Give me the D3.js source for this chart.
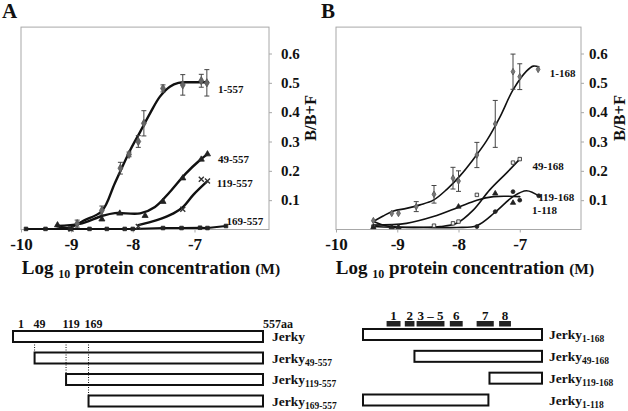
<!DOCTYPE html>
<html><head><meta charset="utf-8">
<script src="https://cdn.jsdelivr.net/npm/d3@7/dist/d3.min.js"></script>
<style>
html,body{margin:0;padding:0;background:#fff;}
svg{display:block;font-family:"Liberation Serif","Times New Roman",serif;font-weight:bold;}
</style></head>
<body><svg id="c" width="628" height="411"></svg>
<script>
// ---------- data ----------
const xTickValues = [-10, -9, -8, -7];
const yTickValues = [0.1, 0.2, 0.3, 0.4, 0.5, 0.6];

// Panel A (Jerky C-terminal fragments)
const a1557_x   = [-8.90, -8.50, -8.20, -8.06, -7.91, -7.82, -7.51, -7.19, -6.89, -6.80];
const a1557_y   = [0.020, 0.065, 0.209, 0.256, 0.300, 0.362, 0.481, 0.493, 0.507, 0.500];
const a1557_err = [0.012, 0.015, 0.020, 0.008, 0.020, 0.043, 0.012, 0.035, 0.022, 0.045];
const a1557_fitX = [-9.29, -9.05, -8.80, -8.50, -8.29, -8.04, -7.88, -7.72, -7.56, -7.40, -7.26, -7.07, -6.78];
const a1557_fitY = [0.012, 0.005, 0.030, 0.063, 0.158, 0.271, 0.333, 0.396, 0.453, 0.487, 0.500, 0.502, 0.502];

const a49557_x = [-9.27, -8.50, -8.21, -7.80, -7.51, -7.19, -6.89, -6.79];
const a49557_y = [0.015, 0.035, 0.055, 0.047, 0.095, 0.175, 0.239, 0.257];
const a49557_fitX = [-9.28, -8.86, -8.50, -8.29, -7.88, -7.64, -7.40, -7.15, -6.91, -6.79];
const a49557_fitY = [0.012, 0.019, 0.046, 0.056, 0.055, 0.077, 0.128, 0.189, 0.237, 0.257];

const a119557_x = [-9.00, -7.91, -7.19, -6.89, -6.79];
const a119557_y = [0.002, 0.010, 0.069, 0.171, 0.165];
const a119557_fitX = [-7.91, -7.61, -7.34, -7.18, -7.02, -6.80];
const a119557_fitY = [0.015, 0.032, 0.055, 0.078, 0.118, 0.163];

const a169557_x = [-9.90, -9.51, -9.02, -8.70, -8.42, -8.13, -8.00, -7.51, -7.21, -6.91, -6.79, -6.49];
const a169557_y = [0.002, 0.002, 0.002, 0.002, 0.002, 0.002, 0.002, 0.005, 0.005, 0.006, 0.005, 0.012];

// Panel B (Jerky N-terminal fragments)
const b1168_x   = [-9.39, -9.09, -8.98, -8.69, -8.40, -8.09, -8.00, -7.70, -7.40, -7.11, -7.00, -6.70];
const b1168_y   = [0.030, 0.055, 0.055, 0.078, 0.120, 0.175, 0.165, 0.254, 0.360, 0.538, 0.521, 0.546];
const b1168_err = [0, 0, 0, 0.017, 0.030, 0.037, 0.035, 0.043, 0.080, 0.060, 0.044, 0];
const b1168_fitX = [-9.39, -9.23, -9.06, -8.85, -8.63, -8.41, -8.19, -7.98, -7.76, -7.54, -7.32, -7.11, -6.89, -6.78, -6.69];
const b1168_fitY = [0.027, 0.046, 0.063, 0.072, 0.084, 0.100, 0.137, 0.182, 0.239, 0.303, 0.385, 0.476, 0.540, 0.557, 0.555];

const b49168_x = [-9.39, -8.40, -8.09, -8.00, -7.70, -7.11, -7.00];
const b49168_y = [0.010, 0.013, 0.021, 0.027, 0.118, 0.228, 0.240];
const b49168_fitX = [-9.39, -8.85, -8.30, -8.03, -7.76, -7.49, -7.21, -7.00];
const b49168_fitY = [0.010, 0.007, 0.010, 0.021, 0.066, 0.135, 0.194, 0.240];

const b119168_x = [-9.39, -9.09, -8.98, -8.00, -7.40, -7.11];
const b119168_y = [0.008, 0.008, 0.008, 0.078, 0.123, 0.091];
const b119168_fitX = [-9.39, -8.85, -8.41, -8.00, -7.70, -7.43, -7.00];
const b119168_fitY = [0.015, 0.021, 0.044, 0.076, 0.100, 0.112, 0.112];

const b1118_x = [-7.70, -7.40, -7.11, -7.00, -6.69];
const b1118_y = [0.010, 0.061, 0.129, 0.100, 0.115];
const b1118_fitX = [-9.39, -9.17, -8.57, -8.03, -7.70, -7.40, -7.11, -6.89, -6.67];
const b1118_fitY = [0.027, 0.012, 0.007, 0.007, 0.013, 0.059, 0.112, 0.132, 0.112];

// series labels (anchor in data units)
const labelsA = ["1-557", "49-557", "119-557", "169-557"];
const labelsA_x = [-6.62, -6.62, -6.64, -6.48];
const labelsA_y = [0.479, 0.240, 0.159, 0.029];
const labelsB = ["1-168", "49-168", "119-168", "1-118"];
const labelsB_x = [-6.51, -6.79, -6.70, -6.80];
const labelsB_y = [0.534, 0.216, 0.109, 0.067];

// Constructs (amino-acid ranges)
const constructsA = ["Jerky", "Jerky49-557", "Jerky119-557", "Jerky169-557"];
const constructsA_sub = ["", "49-557", "119-557", "169-557"];
const constructsA_start = [1, 49, 119, 169];
const constructsA_end = [557, 557, 557, 557];
const positionLabelsA = ["1", "49", "119", "169"];

const constructsB = ["Jerky1-168", "Jerky49-168", "Jerky119-168", "Jerky1-118"];
const constructsB_sub = ["1-168", "49-168", "119-168", "1-118"];
const constructsB_start = [1, 49, 119, 1];
const constructsB_end = [168, 168, 168, 118];
const motifs = ["1", "2", "3 \u2013 5", "6", "7", "8"];
const motifs_start = [23, 40, 51, 82, 107, 128];
const motifs_end = [36, 49, 77, 94, 123, 139];

// ---------- drawing ----------
const svg = d3.select("#c");
const y = d3.scaleLinear().domain([0, 0.6]).range([229.5, 53.5]);
const yTop = 0.69;

const xA = d3.scaleLinear().domain([-10, -9, -8, -7, -6]).range([21, 71, 132.75, 194.5, 256.25]);
const xB = d3.scaleLinear().domain([-10, -6]).range([336, 581]);

function zip(xs, ys) { return xs.map((v, i) => [v, ys[i]]); }

function frame(x, left, right, labPad) {
  const g = svg.append("g");
  g.append("rect").attr("x", left).attr("y", y(yTop)).attr("width", right - left)
    .attr("height", y(0) - y(yTop)).attr("fill", "none").attr("stroke", "#a8a8a8").attr("stroke-width", 1);
  const ax = g.append("g").attr("transform", `translate(0,${y(0)})`)
    .call(d3.axisBottom(x).tickValues(xTickValues).tickSize(3).tickPadding(5).tickFormat(d => String(d)));
  ax.select(".domain").remove();
  ax.selectAll("line").attr("stroke", "#a8a8a8");
  ax.selectAll("text").attr("font-size", 17).attr("font-weight", "bold").attr("fill", "#111")
    .attr("font-family", "Liberation Serif");
  const ay = g.append("g").attr("transform", `translate(${right},0)`)
    .call(d3.axisRight(y).tickValues(yTickValues).tickSize(3).tickPadding(labPad).tickFormat(d3.format(".1f")));
  ay.select(".domain").remove();
  ay.selectAll("line").attr("stroke", "#a8a8a8");
  ay.selectAll("text").attr("font-size", 15).attr("font-weight", "bold").attr("fill", "#111")
    .attr("font-family", "Liberation Serif");
  return g;
}

function axisTitle(cx) {
  const t = svg.append("text").attr("x", cx).attr("y", 274).attr("text-anchor", "middle")
    .attr("font-size", 19).attr("fill", "#111");
  t.append("tspan").text("Log ");
  t.append("tspan").attr("font-size", 12).attr("dy", 4).text("10");
  t.append("tspan").attr("dy", -4).text(" protein concentration ");
  t.append("tspan").attr("font-size", 15.5).text("(M)");
}

function yTitle(cx) {
  svg.append("text").attr("transform", `translate(${cx},118) rotate(-90)`)
    .attr("text-anchor", "middle").attr("dy", "0.35em").attr("font-size", 16.5).attr("fill", "#111")
    .text("B/B+F");
}

function curve(x, xs, ys, w, linear) {
  svg.append("path").datum(zip(xs, ys))
    .attr("d", d3.line().x(d => x(d[0])).y(d => y(d[1]))
      .curve(linear ? d3.curveLinear : d3.curveCatmullRom.alpha(0.5)))
    .attr("fill", "none").attr("stroke", "#111").attr("stroke-width", w).attr("stroke-linecap", "round");
}

function errBars(x, xs, ys, es) {
  const g = svg.append("g").attr("stroke", "#444").attr("stroke-width", 1).attr("fill", "none");
  zip(xs, ys).forEach((d, i) => {
    const e = es[i]; if (!e) return;
    const cx = x(d[0]), y1 = y(d[1] + e), y2 = y(d[1] - e);
    g.append("line").attr("x1", cx).attr("x2", cx).attr("y1", y1).attr("y2", y2);
    g.append("line").attr("x1", cx - 2.5).attr("x2", cx + 2.5).attr("y1", y1).attr("y2", y1);
    g.append("line").attr("x1", cx - 2.5).attr("x2", cx + 2.5).attr("y1", y2).attr("y2", y2);
  });
}

function markers(x, xs, ys, type, fill, stroke, size) {
  const sym = { diamond: d3.symbolDiamond, triangle: d3.symbolTriangle, square: d3.symbolSquare,
                circle: d3.symbolCircle, cross: d3.symbolX }[type];
  svg.append("g").selectAll("path").data(zip(xs, ys)).join("path")
    .attr("transform", d => `translate(${x(d[0])},${y(d[1])})`)
    .attr("d", d3.symbol().type(sym).size(size))
    .attr("fill", type === "cross" ? "none" : fill)
    .attr("stroke", stroke).attr("stroke-width", type === "cross" ? 1.4 : 0.8);
}

function seriesLabels(x, names, xs, ys) {
  svg.append("g").selectAll("text").data(names).join("text")
    .attr("x", (d, i) => x(xs[i])).attr("y", (d, i) => y(ys[i])).attr("dy", "0.35em")
    .attr("font-size", 11).attr("fill", "#111").text(d => d);
}

// Panel letters
svg.append("text").attr("x", 2).attr("y", 18).attr("font-size", 21).attr("fill", "#111").text("A");
svg.append("text").attr("x", 321).attr("y", 18).attr("font-size", 21).attr("fill", "#111").text("B");

// ----- Panel A -----
frame(xA, 21, 269, 9);
axisTitle(151);
yTitle(310);
curve(xA, a169557_x, a169557_y, 2, true);
curve(xA, a1557_fitX, a1557_fitY, 2.4);
curve(xA, a49557_fitX, a49557_fitY, 2.4);
curve(xA, a119557_fitX, a119557_fitY, 2.4);
errBars(xA, a1557_x, a1557_y, a1557_err);
markers(xA, a1557_x, a1557_y, "diamond", "#666", "#555", 20);
markers(xA, a49557_x, a49557_y, "triangle", "#222", "#222", 16);
markers(xA, a119557_x, a119557_y, "cross", "#333", "#333", 18);
markers(xA, a169557_x, a169557_y, "square", "#222", "#222", 13);
seriesLabels(xA, labelsA, labelsA_x, labelsA_y);

// ----- Panel B -----
frame(xB, 336, 581, 5);
axisTitle(465);
yTitle(619);
curve(xB, b1168_fitX, b1168_fitY, 1.6);
curve(xB, b49168_fitX, b49168_fitY, 1.6);
curve(xB, b119168_fitX, b119168_fitY, 1.6);
curve(xB, b1118_fitX, b1118_fitY, 1.6);
errBars(xB, b1168_x, b1168_y, b1168_err);
markers(xB, b1168_x, b1168_y, "diamond", "#777", "#555", 13);
markers(xB, b49168_x, b49168_y, "square", "#eee", "#222", 12);
markers(xB, b119168_x, b119168_y, "triangle", "#222", "#222", 12);
markers(xB, b1118_x, b1118_y, "circle", "#222", "#222", 12);
seriesLabels(xB, labelsB, labelsB_x, labelsB_y);

// ----- Construct diagrams -----
const aaA = d3.scaleLinear().domain([1, 557]).range([13, 263]);
const rowA = d3.scalePoint().domain(constructsA).range([331, 395.5]);
const barH = 11;
const gA = svg.append("g");
gA.selectAll("rect").data(constructsA).join("rect")
  .attr("x", (d, i) => aaA(constructsA_start[i])).attr("y", d => rowA(d))
  .attr("width", (d, i) => aaA(constructsA_end[i]) - aaA(constructsA_start[i])).attr("height", barH)
  .attr("fill", "#fff").attr("stroke", "#111").attr("stroke-width", 2);
constructsA.forEach((d, i) => {
  if (i === 0) return;
  gA.append("line").attr("x1", aaA(constructsA_start[i])).attr("x2", aaA(constructsA_start[i]))
    .attr("y1", rowA(constructsA[0]) + barH).attr("y2", rowA(d))
    .attr("stroke", "#111").attr("stroke-width", 1).attr("stroke-dasharray", "1,1.5");
});
gA.selectAll("text.pos").data(positionLabelsA).join("text").attr("class", "pos")
  .attr("x", (d, i) => aaA(constructsA_start[i]) + (i === 0 ? 8 : 5)).attr("y", 327.5)
  .attr("text-anchor", "middle").attr("font-size", 12).attr("fill", "#111").text(d => d);
gA.append("text").attr("x", aaA(557)).attr("y", 327.5).attr("font-size", 12).attr("fill", "#111").text("557aa");

function constructLabels(g, names, subs, row, x) {
  names.forEach((d, i) => {
    const t = g.append("text").attr("x", x).attr("y", row(d) + 10).attr("font-size", 13.5).attr("fill", "#111");
    t.append("tspan").text("Jerky");
    if (subs[i]) t.append("tspan").attr("font-size", 9.5).attr("dy", 3).text(subs[i]);
  });
}
constructLabels(gA, constructsA, constructsA_sub, rowA, 272);

const aaB = d3.scaleLinear().domain([1, 168]).range([363, 542]);
const rowB = d3.scalePoint().domain(constructsB).range([329, 394.5]);
const gB = svg.append("g");
gB.selectAll("rect.c").data(constructsB).join("rect").attr("class", "c")
  .attr("x", (d, i) => aaB(constructsB_start[i])).attr("y", d => rowB(d))
  .attr("width", (d, i) => aaB(constructsB_end[i]) - aaB(constructsB_start[i])).attr("height", barH)
  .attr("fill", "#fff").attr("stroke", "#111").attr("stroke-width", 2);
gB.selectAll("rect.m").data(motifs).join("rect").attr("class", "m")
  .attr("x", (d, i) => aaB(motifs_start[i])).attr("y", 321)
  .attr("width", (d, i) => aaB(motifs_end[i]) - aaB(motifs_start[i])).attr("height", 5.5)
  .attr("fill", "#222");
gB.selectAll("text.m").data(motifs).join("text").attr("class", "m")
  .attr("x", (d, i) => (aaB(motifs_start[i]) + aaB(motifs_end[i])) / 2).attr("y", 319.5)
  .attr("text-anchor", "middle").attr("font-size", 13).attr("fill", "#111").text(d => d);
constructLabels(gB, constructsB, constructsB_sub, rowB, 549);
</script></body></html>
